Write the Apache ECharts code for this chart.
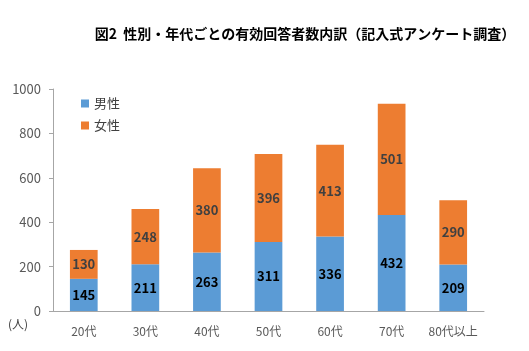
<!DOCTYPE html>
<html>
<head>
<meta charset="utf-8">
<script src="https://cdn.jsdelivr.net/npm/echarts@6/dist/echarts.min.js"></script>
<style>
  html, body { margin: 0; padding: 0; background: #fff; }
  #chart { width: 529px; height: 351px; }
</style>
</head>
<body>
<div id="chart"></div>
<script>
// データ
var categories = ["20代", "30代", "40代", "50代", "60代", "70代", "80代以上"];
var maleValues = [145, 211, 263, 311, 336, 432, 209];
var femaleValues = [130, 248, 380, 396, 413, 501, 290];

(function() {
    var myChart = echarts.init(document.getElementById("chart"));
    var font = "'Noto Sans CJK JP', sans-serif";
    var option = {
        animation: false,
        color: ["#5B9BD5", "#ED7D31"],
        title: {
            text: "図2  性別・年代ごとの有効回答者数内訳（記入式アンケート調査）",
            left: 300,
            textAlign: "center",
            top: 22,
            textStyle: {
                fontFamily: font,
                fontSize: 14,
                fontWeight: "bold",
                color: "#000"
            }
        },
        legend: {
            orient: "vertical",
            left: 76,
            top: 92,
            itemWidth: 8,
            itemHeight: 8,
            itemGap: 9,
            icon: "rect",
            textStyle: { fontFamily: font, fontSize: 13, color: "#404040" },
            data: ["男性", "女性"]
        },
        // 単位（人）
        graphic: [{
            type: "text",
            left: 8,
            top: 318,
            style: {
                text: "(人)",
                fill: "#404040",
                font: "12px " + font
            }
        }],
        grid: {
            left: 53,
            right: 45,
            top: 89,
            bottom: 40,
            containLabel: false
        },
        xAxis: {
            type: "category",
            data: categories,
            axisTick: { show: false },
            axisLine: { lineStyle: { color: "#A6A6A6" } },
            axisLabel: {
                interval: 0,
                color: "#595959",
                fontFamily: font,
                fontSize: 12,
                margin: 14
            }
        },
        yAxis: {
            type: "value",
            min: 0,
            max: 1000,
            interval: 200,
            axisLine: { show: true, lineStyle: { color: "#A6A6A6" } },
            axisTick: { show: true, length: 4, lineStyle: { color: "#A6A6A6" } },
            splitLine: { show: false },
            axisLabel: {
                color: "#595959",
                fontFamily: font,
                fontSize: 13,
                margin: 12,
                formatter: function(v) { return String(v); }
            }
        },
        series: [{
                name: "男性",
                type: "bar",
                stack: "total",
                barWidth: "45%",
                data: maleValues,
                label: {
                    show: true,
                    position: "inside",
                    color: "#000",
                    fontFamily: font,
                    fontWeight: "bold",
                    fontSize: 13
                }
            },
            {
                name: "女性",
                type: "bar",
                stack: "total",
                barWidth: "45%",
                data: femaleValues,
                label: {
                    show: true,
                    position: "inside",
                    color: "#404040",
                    fontFamily: font,
                    fontWeight: "bold",
                    fontSize: 13
                }
            }
        ]
    };
    myChart.setOption(option);
})();
</script>
</body>
</html>
